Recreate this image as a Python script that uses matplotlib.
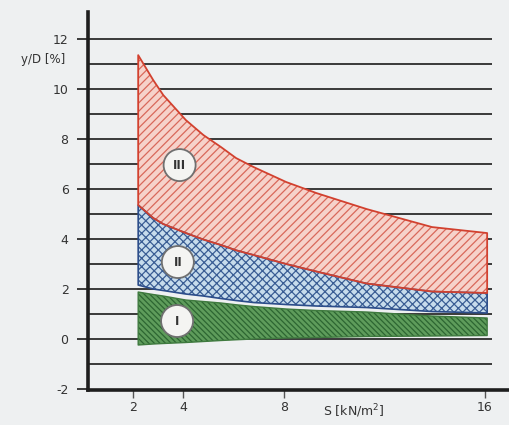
import matplotlib
matplotlib.use('Agg')
import matplotlib.pyplot as plt
from matplotlib.patches import Ellipse

# curve readings from the diagram, S in kN/m2, y/D in %
s_vals = [2.2, 2.8, 3.2, 4.1, 4.8, 5.5, 6.1, 6.8, 8.1, 9.3, 11.3, 13.9, 16.1]
red_top = [11.36, 10.36, 9.76, 8.76, 8.16, 7.68, 7.24, 6.88, 6.28, 5.84, 5.2, 4.48, 4.24]
blue_top = [5.36, 4.84, 4.6, 4.24, 3.98, 3.76, 3.55, 3.36, 3.0, 2.7, 2.22, 1.9, 1.84]
blue_bot = [2.16, 2.0, 1.94, 1.8, 1.72, 1.62, 1.54, 1.46, 1.38, 1.32, 1.26, 1.1, 1.04]
green_top = [1.88, 1.78, 1.72, 1.56, 1.5, 1.44, 1.37, 1.3, 1.2, 1.14, 1.08, 0.92, 0.84]
green_bot = [-0.24, -0.2, -0.18, -0.14, -0.1, -0.06, -0.03, 0.0, 0.04, 0.06, 0.1, 0.12, 0.14]

zone_labels = ['III', 'II', 'I']
zone_s = [3.85, 3.78, 3.75]
zone_y = [6.96, 3.08, 0.72]

x_ticks = [2, 4, 8, 16]
y_ticks = [-2, 0, 2, 4, 6, 8, 10, 12]
grid_levels = list(range(-1, 13))

bg = '#eef0f1'
plt.rcParams['hatch.linewidth'] = 0.9

fig = plt.figure(figsize=(5.1, 4.25), dpi=100, facecolor=bg)
ax = fig.add_axes([0.1725, 0.0824, 0.827, 0.889])
ax.set_facecolor(bg)
ax.set_xlim(0.2, 17.0)
ax.set_ylim(-2.04, 13.08)

# horizontal rules
ax.hlines(grid_levels, 0.2, 16.3, color='#3a3a3a', lw=1.4, zorder=1)

# zone I (green)
ax.fill_between(s_vals, green_bot, green_top, facecolor='#5e9c5b', edgecolor='#2d6632',
                hatch='\\\\\\\\\\\\', lw=0, zorder=2)
ax.fill_between(s_vals, green_bot, green_top, facecolor='none', edgecolor='#3f7a3f', lw=1.0, zorder=3)

# zone II (blue)
ax.fill_between(s_vals, blue_bot, blue_top, facecolor='#c7dcec', edgecolor='#3a5d94',
                hatch='xxxx', lw=0, zorder=2)
ax.fill_between(s_vals, blue_bot, blue_top, facecolor='none', edgecolor='#2c4d8a', lw=1.2, zorder=3)

# zone III (red)
ax.fill_between(s_vals, blue_top, red_top, facecolor='#f6d2ca', edgecolor='#d9685a',
                hatch='////', lw=0, zorder=2)
ax.fill_between(s_vals, blue_top, red_top, facecolor='none', edgecolor='#d2412f', lw=1.3, zorder=3)

for lab, sx, sy in zip(zone_labels, zone_s, zone_y):
    ax.add_patch(Ellipse((sx, sy), 32 / 25.1, 32 / 25.0, facecolor='#f4f4f2',
                         edgecolor='#707070', lw=1.3, zorder=4))
    ax.text(sx, sy, lab, ha='center', va='center', fontsize=8.5, fontweight='bold',
            color='#333333', zorder=5)

for side in ['top', 'right']:
    ax.spines[side].set_visible(False)
for side in ['left', 'bottom']:
    ax.spines[side].set_linewidth(2.6)
    ax.spines[side].set_color('#1e1e1e')

ax.set_yticks(y_ticks)
ax.set_yticklabels([str(v) for v in y_ticks])
ax.set_xticks(x_ticks)
ax.set_xticklabels([str(v) for v in x_ticks])
ax.tick_params(axis='y', direction='out', length=8, width=1.4, color='#3a3a3a',
               pad=6, labelsize=9, labelcolor='#333333')
ax.tick_params(axis='x', direction='out', length=6, width=1.0, color='#555555',
               pad=2, labelsize=9, labelcolor='#333333')

ax.text(10.8, -2.55, 'S [kN/m$^2$]', ha='center', va='top', fontsize=9,
        color='#333333', clip_on=False)
ax.text(-0.72, 11.2, 'y/D [%]', ha='right', va='center', fontsize=8.5,
        color='#333333', clip_on=False)

fig.savefig('out.png', dpi=100, facecolor=bg)
